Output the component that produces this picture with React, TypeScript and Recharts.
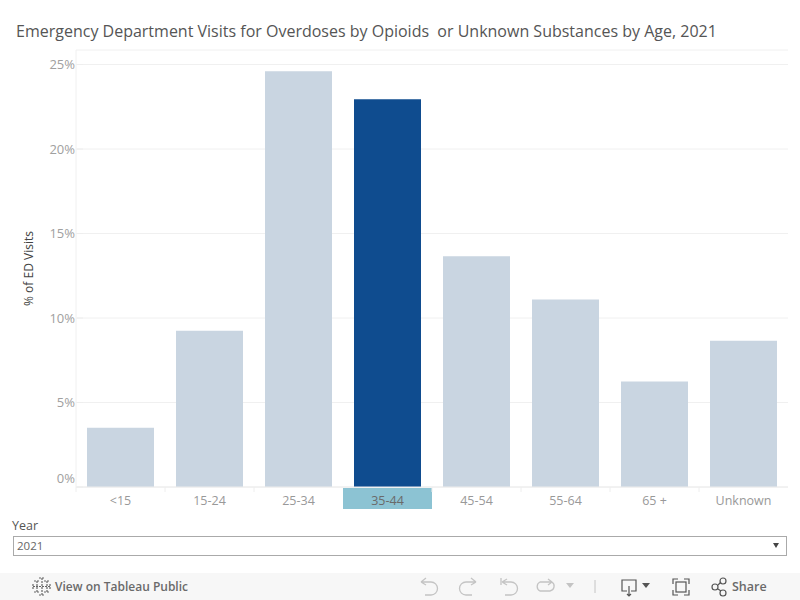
import { BarChart, Bar, XAxis, YAxis, CartesianGrid, Cell } from "recharts";

const ageGroups = ["<15", "15-24", "25-34", "35-44", "45-54", "55-64", "65 +", "Unknown"];
const edVisitShare = [3.5, 9.25, 24.6, 22.95, 13.65, 11.1, 6.25, 8.65];
const percentTicks = [0, 5, 10, 15, 20, 25];
const highlightedAge = "35-44";

const chartData = ageGroups.map((age, i) => ({ age, share: edVisitShare[i] }));

const FONT = '"Open Sans", "Noto Sans", sans-serif';

const PercentTick = ({ x, y, payload }: any) => (
  <g>
    <line x1={x + 1} x2={x + 7} y1={y} y2={y} stroke="#eeeeee" />
    <text
      x={x - 1}
      y={payload.value === 0 ? y - 9 : y}
      dy={4.5}
      textAnchor="end"
      fontSize={13}
      fontFamily={FONT}
      fill="#a0a0a0"
    >
      {payload.value}%
    </text>
  </g>
);

const AgeTick = ({ x, y, payload }: any) => {
  const highlighted = payload.value === highlightedAge;
  return (
    <g>
      {highlighted && <rect x={x - 44.5} y={y + 1} width={89} height={21} fill="#8cc3d3" />}
      {!highlighted && <line x1={x - 44.5} x2={x - 44.5} y1={y} y2={y + 5} stroke="#eeeeee" />}
      <text
        x={x}
        y={y + 18}
        textAnchor="middle"
        fontSize={12.5}
        fontFamily={FONT}
        fill={highlighted ? "#6a6a6a" : "#999999"}
      >
        {payload.value}
      </text>
    </g>
  );
};

const iconStroke = "#c4c4c4";

const Toolbar = () => (
  <svg width={800} height={27} style={{ position: "absolute", left: 0, top: 573 }}>
    <rect width={800} height={27} fill="#f7f7f7" />
    {/* Tableau mark */}
    <g stroke="#666666" strokeWidth={1.2}>
      <path d="M42 5v17M33 13.5h17M37 8v11M47 8v11M34 8h6M44 8h6M34 19h6M44 19h6M39 5h6M39 22h6M33 11v5M50 11v5" strokeDasharray="2 1" />
    </g>
    <text x={55} y={18} fontSize={12} fontWeight={600} fontFamily={FONT} fill="#6a6a6a">
      View on Tableau Public
    </text>
    {/* undo / redo / revert / refresh */}
    <g fill="none" stroke={iconStroke} strokeWidth={1.3}>
      <path d="M421 9h10a5 5 0 0 1 0 13h-6M421 9l5-4M421 9l5 3" />
      <path d="M476 9h-10a5 5 0 0 0 0 13h6M476 9l-5-4M476 9l-5 3" />
      <path d="M501 5v7M502 9h9a5 5 0 0 1 0 13h-6M502 9l5-3M502 9l5 3" />
      <path d="M552 9h-12a5 5 0 0 0 0 9h10a5 5 0 0 0 2-9M552 9l-4-3M552 9l-4 3" />
    </g>
    <path d="M566 10h8l-4 5z" fill={iconStroke} />
    <line x1={595} x2={595} y1={7} y2={20} stroke="#c4c4c4" />
    {/* download */}
    <g fill="none" stroke="#555555" strokeWidth={1.2}>
      <path d="M627 18h-5V7h14v11h-5M629 13v10M627 21l2 2 2-2" />
    </g>
    <path d="M642 10h8l-4 5z" fill="#555555" />
    {/* full screen */}
    <g fill="none" stroke="#555555" strokeWidth={1.2}>
      <path d="M673 11V6h5M684 6h5v5M689 17v5h-5M678 22h-5v-5" />
      <rect x={676} y={9} width={10} height={10} />
    </g>
    {/* share */}
    <g fill="none" stroke="#555555" strokeWidth={1.2}>
      <circle cx={715} cy={14} r={3} />
      <circle cx={723} cy={8} r={3} />
      <circle cx={723} cy={20} r={3} />
      <path d="M718 12l3-3M718 16l3 2" />
    </g>
    <text x={732} y={18} fontSize={12.5} fontWeight={600} fontFamily={FONT} fill="#6a6a6a">
      Share
    </text>
  </svg>
);

export default function App() {
  return (
    <div
      style={{
        position: "absolute",
        left: 0,
        top: 0,
        width: 800,
        height: 600,
        background: "#ffffff",
        overflow: "hidden",
        fontFamily: FONT,
      }}
    >
      <BarChart
        width={800}
        height={520}
        data={chartData}
        margin={{ top: 50, right: 12, bottom: 0, left: 0 }}
      >
        <CartesianGrid vertical={false} stroke="#f0f0f0" />
        <XAxis
          dataKey="age"
          height={33}
          interval={0}
          tickLine={false}
          tickSize={0}
          tickMargin={0}
          axisLine={{ stroke: "#ececec" }}
          tick={AgeTick}
        />
        <YAxis
          width={76}
          domain={[0, 25.86]}
          ticks={percentTicks}
          interval={0}
          allowDataOverflow
          tickLine={false}
          tickSize={0}
          tickMargin={0}
          axisLine={{ stroke: "#f0f0f0" }}
          tick={PercentTick}
          label={{
            value: "% of ED Visits",
            angle: -90,
            position: "center",
            dx: -9,
            style: { fontSize: 12, fontFamily: FONT, fill: "#444444" },
          }}
        />
        <Bar dataKey="share" barSize={67} isAnimationActive={false}>
          {chartData.map((d) => (
            <Cell key={d.age} fill={d.age === highlightedAge ? "#0f4c8f" : "#c9d5e1"} />
          ))}
        </Bar>
      </BarChart>

      <div
        style={{
          position: "absolute",
          left: 16,
          top: 20,
          fontSize: 16,
          lineHeight: "22px",
          color: "#555555",
          whiteSpace: "pre",
        }}
      >
        {"Emergency Department Visits for Overdoses by Opioids  or Unknown Substances by Age, 2021"}
      </div>

      <div style={{ position: "absolute", left: 12, top: 517, fontSize: 12.5, lineHeight: "17px", color: "#555555" }}>
        Year
      </div>
      <div
        style={{
          position: "absolute",
          left: 13,
          top: 536,
          width: 772,
          height: 18,
          border: "1px solid #aaaaaa",
          fontSize: 11.5,
          lineHeight: "18px",
          color: "#666666",
        }}
      >
        <span style={{ marginLeft: 3 }}>2021</span>
        <svg width={10} height={6} style={{ position: "absolute", right: 4, top: 6 }}>
          <path d="M1 0h6l-3 5z" fill="#444444" />
        </svg>
      </div>

      <Toolbar />
    </div>
  );
}
